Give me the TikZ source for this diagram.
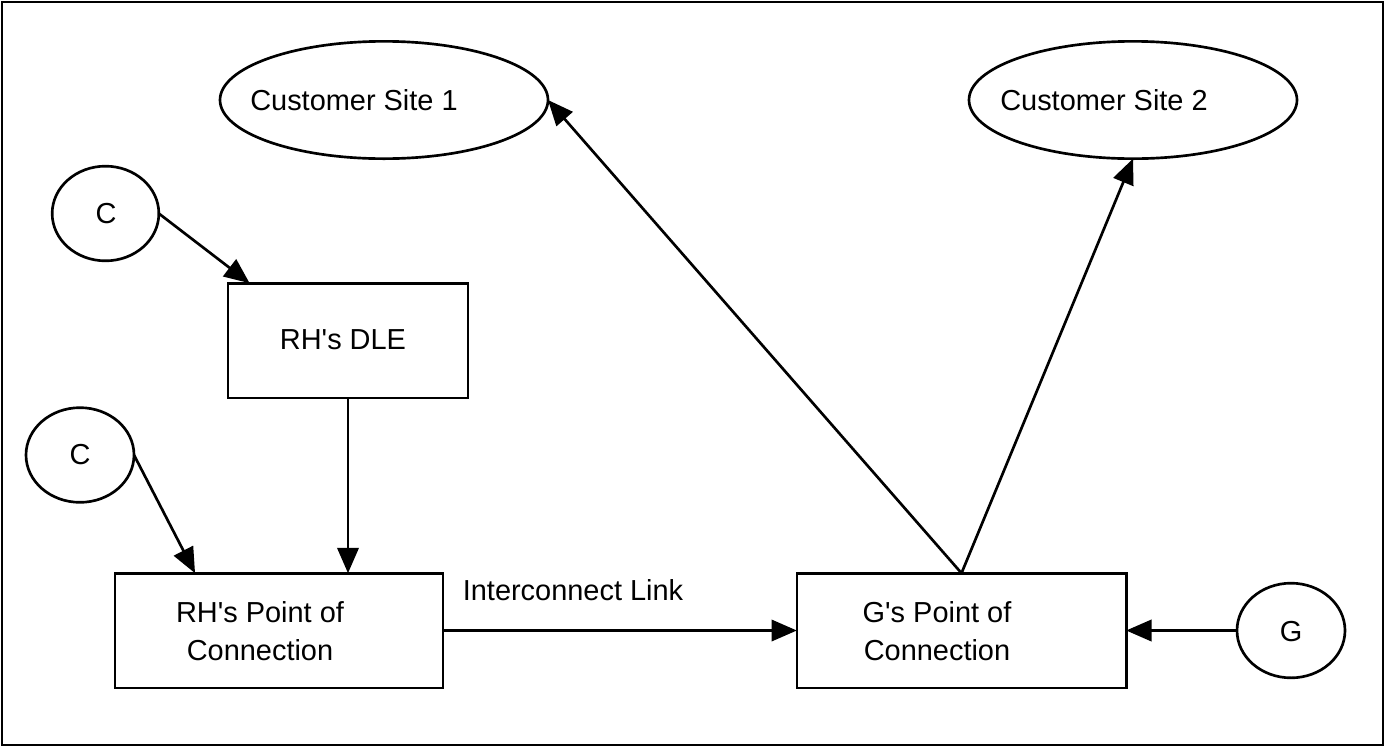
\documentclass[tikz,border=0pt]{standalone}
\usepackage{fontspec}
\setmainfont{Liberation Sans}
\usetikzlibrary{shapes.geometric,arrows.meta,calc}
\begin{document}
\begin{tikzpicture}[x=0.75pt,y=-0.75pt,
 shp/.style={draw,line width=2pt,inner sep=0pt,outer sep=0pt},
 ell/.style={shp,ellipse},
 box/.style={shp,rectangle},
 lbl/.style={font=\fontsize{21.7}{28.5}\selectfont,inner sep=0pt,align=center},
 arr/.style={line width=2pt,-{Triangle[length=19pt,width=16pt]}}]
\useasboundingbox (0,0) rectangle (1385,747);
\draw[line width=2pt] (2,2) rectangle (1383,745);
% shapes
\node[ell,minimum width=246pt,minimum height=88pt] (cs1) at (384,100) {};
\node[ell,minimum width=246pt,minimum height=88pt] (cs2) at (1133,100) {};
\node[ell,minimum width=80pt,minimum height=71pt] (c1) at (105.5,213.5) {};
\node[ell,minimum width=81pt,minimum height=71pt] (c2) at (80,455) {};
\node[ell,minimum width=81pt,minimum height=71pt] (gc) at (1291,630.5) {};
\node[box,minimum width=180pt,minimum height=86pt] (dle) at (348,340.5) {};
\node[box,minimum width=246pt,minimum height=86pt] (rh) at (279,630.5) {};
\node[box,minimum width=247pt,minimum height=86pt] (g) at (961.5,630.5) {};
% texts
\node[lbl] (cs1t) at (354,100) {Customer Site 1};
\node[lbl] (cs2t) at (1104,100) {Customer Site 2};
\node[lbl] (c1t) at (106,214) {C};
\node[lbl] (c2t) at (80,455) {C};
\node[lbl] (gct) at (1291,632) {G};
\node[lbl] (dlet) at (343,340) {RH\textquotesingle s DLE};
\node[lbl] (rht) at (260,631) {RH\textquotesingle s Point of\\Connection};
\node[lbl] (gt) at (937,631) {G\textquotesingle s Point of\\Connection};
\node[lbl] (ilt) at (573,590) {Interconnect Link};
% connectors
\draw[arr] (c1.east) -- ($(dle.north west)!0.09!(dle.north east)$);
\draw[arr] (c2.east) -- ($(rh.north west)!0.244!(rh.north east)$);
\draw[arr] (dle.south) -- (dle.south |- rh.north);
\draw[arr] (rh.east) -- (g.west);
\draw[arr] (gc.west) -- (g.east);
\draw[arr] (g.north) -- (cs1.east);
\draw[arr] (g.north) -- (cs2.south);
\end{tikzpicture}
\end{document}
